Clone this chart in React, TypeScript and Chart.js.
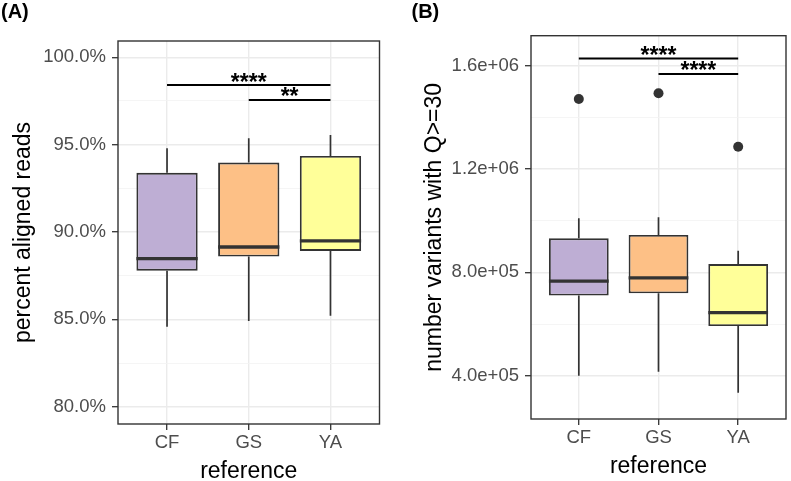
import React, { useEffect, useRef } from 'react';
import { Chart, registerables } from 'chart.js';

Chart.register(...registerables);

const FONT = '"Liberation Sans", Arial, Helvetica, sans-serif';

// ---------- shared ----------
const categories = ['CF', 'GS', 'YA'];
const boxColors = ['#BEAED4', '#FDC086', '#FFFF99'];
const xAxisTitle = 'reference';

// ---------- panel A: percent aligned reads ----------
const alignedMin = [84.58, 84.91, 85.21];
const alignedQ1 = [87.78, 88.59, 88.91];
const alignedMedian = [88.47, 89.14, 89.49];
const alignedQ3 = [93.39, 93.97, 94.35];
const alignedMax = [94.79, 95.36, 95.55];
const alignedOutliers: number[][] = [[], [], []];
const alignedMajorTicks = [80, 85, 90, 95, 100];
const alignedMinorTicks = [82.5, 87.5, 92.5, 97.5];
const alignedTickLabels = ['80.0%', '85.0%', '90.0%', '95.0%', '100.0%'];
const alignedSigFrom = [0, 1];
const alignedSigTo = [2, 2];
const alignedSigY = [98.41, 97.56];
const alignedSigLabels = ['****', '**'];

// ---------- panel B: number variants with Q>=30 ----------
const variantsMin = [400000, 415000, 334000];
const variantsQ1 = [710000, 719000, 592000];
const variantsMedian = [766000, 779000, 644000];
const variantsQ3 = [932000, 945000, 832000];
const variantsMax = [1009000, 1013000, 884000];
const variantsOutliers: number[][] = [[1471000], [1493000], [1286000]];
const variantsMajorTicks = [400000, 800000, 1200000, 1600000];
const variantsMinorTicks = [600000, 1000000, 1400000];
const variantsTickLabels = ['4.0e+05', '8.0e+05', '1.2e+06', '1.6e+06'];
const variantsSigFrom = [0, 1];
const variantsSigTo = [2, 2];
const variantsSigY = [1628000, 1568000];
const variantsSigLabels = ['****', '****'];

type PanelSpec = {
  tag: string;
  tagX: number;
  yTitle: string;
  min: number[];
  q1: number[];
  median: number[];
  q3: number[];
  max: number[];
  outliers: number[][];
  majorTicks: number[];
  minorTicks: number[];
  tickLabels: string[];
  sigFrom: number[];
  sigTo: number[];
  sigY: number[];
  sigLabels: string[];
  yMin: number;
  yMax: number;
  layout: { top: number; right: number; bottom: number; left: number };
  yAxisWidth: number;
  yTitlePad: number;
  xAxisHeight: number;
};

const panelA: PanelSpec = {
  tag: '(A)',
  tagX: 1,
  yTitle: 'percent aligned reads',
  min: alignedMin,
  q1: alignedQ1,
  median: alignedMedian,
  q3: alignedQ3,
  max: alignedMax,
  outliers: alignedOutliers,
  majorTicks: alignedMajorTicks,
  minorTicks: alignedMinorTicks,
  tickLabels: alignedTickLabels,
  sigFrom: alignedSigFrom,
  sigTo: alignedSigTo,
  sigY: alignedSigY,
  sigLabels: alignedSigLabels,
  yMin: 79.01,
  yMax: 100.93,
  layout: { top: 41, right: 15.5, bottom: 0, left: 0 },
  yAxisWidth: 118,
  yTitlePad: 12,
  xAxisHeight: 57,
};

const panelB: PanelSpec = {
  tag: '(B)',
  tagX: 16.5,
  yTitle: 'number variants with Q>=30',
  min: variantsMin,
  q1: variantsQ1,
  median: variantsMedian,
  q3: variantsQ3,
  max: variantsMax,
  outliers: variantsOutliers,
  majorTicks: variantsMajorTicks,
  minorTicks: variantsMinorTicks,
  tickLabels: variantsTickLabels,
  sigFrom: variantsSigFrom,
  sigTo: variantsSigTo,
  sigY: variantsSigY,
  sigLabels: variantsSigLabels,
  yMin: 232400,
  yMax: 1716100,
  layout: { top: 35.7, right: 2.7, bottom: 5, left: 0 },
  yAxisWidth: 136,
  yTitlePad: 28,
  xAxisHeight: 57,
};

const BOX_HALF = 0.375;

function buildConfig(p: PanelSpec): any {
  const boxData = categories.map((_, i) => ({ x: i + 1, y: [p.q1[i], p.q3[i]] }));
  const whiskerData: any[] = [];
  const medianData: any[] = [];
  categories.forEach((_, i) => {
    whiskerData.push(
      { x: i + 1, y: p.min[i] },
      { x: i + 1, y: p.q1[i] },
      { x: i + 1, y: null },
      { x: i + 1, y: p.q3[i] },
      { x: i + 1, y: p.max[i] },
      { x: i + 1, y: null }
    );
    medianData.push(
      { x: i + 1 - BOX_HALF, y: p.median[i] },
      { x: i + 1 + BOX_HALF, y: p.median[i] },
      { x: i + 1, y: null }
    );
  });
  const outlierData: any[] = [];
  p.outliers.forEach((arr, i) => arr.forEach((v) => outlierData.push({ x: i + 1, y: v })));
  const sigData: any[] = [];
  p.sigY.forEach((y, k) => {
    sigData.push({ x: p.sigFrom[k] + 1, y }, { x: p.sigTo[k] + 1, y }, { x: p.sigTo[k] + 1, y: null });
  });

  const allTicks = [...p.majorTicks, ...p.minorTicks].sort((a, b) => a - b);
  const isMajor = (v: number) => p.majorTicks.indexOf(v) >= 0;

  const lineBase = {
    type: 'line',
    pointRadius: 0,
    fill: false,
    tension: 0,
    spanGaps: false,
    borderCapStyle: 'butt',
  };

  const plugin = {
    id: 'panelDecor' + p.tag,
    afterDatasetsDraw(chart: any) {
      const { ctx, chartArea, scales } = chart;
      ctx.save();
      // significance labels
      ctx.fillStyle = '#000000';
      ctx.font = `bold 23px ${FONT}`;
      ctx.textAlign = 'center';
      ctx.textBaseline = 'alphabetic';
      p.sigY.forEach((y, k) => {
        const xm = scales.x.getPixelForValue((p.sigFrom[k] + p.sigTo[k]) / 2 + 1);
        const yp = scales.y.getPixelForValue(y);
        ctx.fillText(p.sigLabels[k], xm, yp + 4.5);
      });
      // panel border
      ctx.strokeStyle = '#333333';
      ctx.lineWidth = 1.4;
      ctx.strokeRect(chartArea.left, chartArea.top, chartArea.right - chartArea.left, chartArea.bottom - chartArea.top);
      ctx.restore();
    },
    afterDraw(chart: any) {
      const { ctx } = chart;
      ctx.save();
      ctx.fillStyle = '#000000';
      ctx.font = `bold 20px ${FONT}`;
      ctx.textAlign = 'left';
      ctx.textBaseline = 'alphabetic';
      ctx.fillText(p.tag, p.tagX, 17.5);
      ctx.restore();
    },
  };

  return {
    type: 'bar',
    data: {
      datasets: [
        {
          ...lineBase,
          label: 'whiskers',
          data: whiskerData,
          borderColor: '#333333',
          borderWidth: 1.7,
          order: 3,
        },
        {
          type: 'bar',
          label: 'boxes',
          data: boxData,
          backgroundColor: boxColors,
          borderColor: '#333333',
          borderWidth: 1.9,
          borderSkipped: false,
          barPercentage: 2 * BOX_HALF,
          categoryPercentage: 1,
          order: 2,
        },
        {
          ...lineBase,
          label: 'medians',
          data: medianData,
          borderColor: '#333333',
          borderWidth: 3.3,
          order: 1,
        },
        {
          ...lineBase,
          label: 'outliers',
          data: outlierData,
          showLine: false,
          pointRadius: 5,
          pointBackgroundColor: '#333333',
          pointBorderWidth: 0,
          borderColor: '#333333',
          order: 0,
        },
        {
          ...lineBase,
          label: 'significance',
          data: sigData,
          borderColor: '#000000',
          borderWidth: 2,
          order: 0,
          clip: false,
        },
      ],
    },
    options: {
      responsive: false,
      animation: false,
      devicePixelRatio: 1,
      layout: { padding: p.layout },
      plugins: {
        legend: { display: false },
        tooltip: { enabled: false },
        title: { display: false },
      },
      scales: {
        x: {
          type: 'linear',
          min: 0.4,
          max: 3.6,
          offset: false,
          afterBuildTicks: (s: any) => {
            s.ticks = categories.map((_, i) => ({ value: i + 1 }));
          },
          afterFit: (s: any) => {
            s.height = p.xAxisHeight;
          },
          ticks: {
            callback: (v: any) => categories[Math.round(Number(v)) - 1] ?? '',
            color: '#4D4D4D',
            font: { family: FONT, size: 18.5 },
            padding: 2,
            autoSkip: false,
            maxRotation: 0,
          },
          grid: {
            offset: false,
            color: '#EBEBEB',
            lineWidth: 1.4,
            tickColor: '#333333',
            tickLength: 6,
            tickWidth: 1.3,
          },
          border: { display: false },
          title: {
            display: true,
            text: xAxisTitle,
            color: '#000000',
            font: { family: FONT, size: 23, lineHeight: 0.83 },
            padding: { top: 0, bottom: 0 },
          },
        },
        y: {
          type: 'linear',
          min: p.yMin,
          max: p.yMax,
          afterBuildTicks: (s: any) => {
            s.ticks = allTicks.map((v) => ({ value: v }));
          },
          afterFit: (s: any) => {
            s.width = p.yAxisWidth;
          },
          ticks: {
            callback: (v: any) => {
              const idx = p.majorTicks.indexOf(Number(v));
              return idx >= 0 ? p.tickLabels[idx] : '';
            },
            color: '#4D4D4D',
            font: { family: FONT, size: 18.5 },
            padding: 6,
            autoSkip: false,
          },
          grid: {
            color: (c: any) => (c.tick && isMajor(c.tick.value) ? '#EBEBEB' : '#F2F2F2'),
            lineWidth: (c: any) => (c.tick && isMajor(c.tick.value) ? 1.4 : 0.8),
            tickColor: (c: any) => (c.tick && isMajor(c.tick.value) ? '#333333' : 'rgba(0,0,0,0)'),
            tickLength: 6,
            tickWidth: 1.3,
          },
          border: { display: false },
          title: {
            display: true,
            text: p.yTitle,
            color: '#000000',
            font: { family: FONT, size: 23, lineHeight: 1 },
            padding: { top: p.yTitlePad, bottom: 0 },
          },
        },
      },
    },
    plugins: [plugin],
  };
}

function Panel({ spec, left, width }: { spec: PanelSpec; left: number; width: number }) {
  const ref = useRef<HTMLCanvasElement>(null);
  useEffect(() => {
    if (!ref.current) return;
    const chart = new Chart(ref.current, buildConfig(spec));
    return () => chart.destroy();
  }, [spec]);
  return (
    <canvas
      ref={ref}
      width={width}
      height={481}
      style={{ position: 'absolute', left, top: 0, width, height: 481, display: 'block' }}
    />
  );
}

export default function App() {
  return (
    <div style={{ position: 'fixed', left: 0, top: 0, width: 791, height: 481, background: '#ffffff', overflow: 'hidden' }}>
      <Panel spec={panelA} left={0} width={395} />
      <Panel spec={panelB} left={395} width={396} />
    </div>
  );
}
